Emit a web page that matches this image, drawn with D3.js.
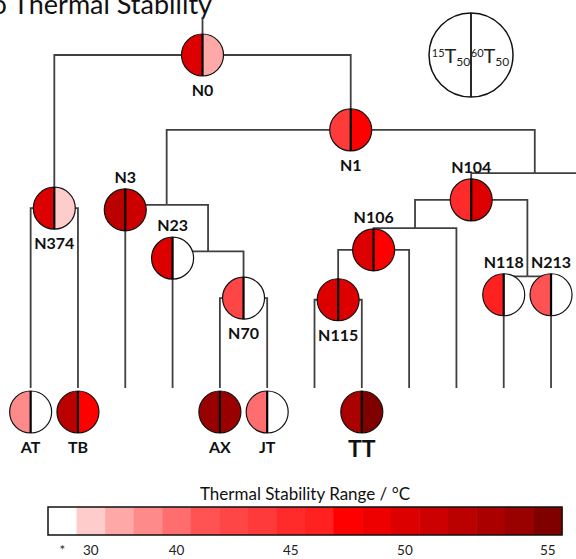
<!DOCTYPE html>
<html>
<head>
<meta charset="utf-8">
<script src="https://cdn.jsdelivr.net/npm/d3@7"></script>
<style>
  body { margin: 0; background: #fff; }
  svg { display: block; font-family: Lato, "Open Sans", sans-serif; }
</style>
</head>
<body>
<svg id="chart" width="576" height="559"></svg>
<script>
// tree topology: id, parent, distance from N0 (0) to the tip line (1)
const nodeIds   = ["N0", "N374", "AT", "TB", "N1", "J1", "N3", "L3", "J2", "N23", "L23", "N70", "AX", "JT",
                   "J3", "N104", "J4", "N106", "N115", "L115", "TT", "L106", "L104", "J5", "N118", "L118", "N213", "L213", "OUT"];
const parentIds = ["", "N0", "N374", "N374", "N0", "N1", "J1", "N3", "J1", "J2", "N23", "J2", "N70", "N70",
                   "N1", "J3", "N104", "J4", "N106", "N115", "N115", "N106", "J4", "N104", "J5", "N118", "J5", "N213", "J3"];
const nodeDist  = [0, 0.46, 1, 1, 0.225, 0.45, 0.465, 1, 0.59, 0.61, 1, 0.73, 1, 1,
                   0.355, 0.435, 0.52, 0.585, 0.735, 1, 1, 1, 1, 0.665, 0.72, 1, 0.72, 1, 1];

// measured nodes, 15T50 and 60T50 in degC (null = * / not reached)
const circleNodes = ["N0", "N1", "N374", "N3", "N23", "N70", "N104", "N106", "N115", "N118", "N213", "AT", "TB", "AX", "JT", "TT"];
const t15 = [50, 44, 50, 52, 50, 42.5, 45, 50, 50, 46, 41, 37, 52, 54, 40, 53];
const t60 = [33, 47.5, 30, 51, null, null, 50, 47.5, 50, null, null, null, 47.5, 54, null, 55];

// colour bar
const binTemps  = [null, 30, 33, 37, 40, 41, 42.5, 44, 45, 46, 47.5, 49, 50, 51, 52, 53, 54, 55];
const binColors = ["#ffffff", "#ffcccc", "#ffa8a8", "#ff8a8a", "#ff6e6e", "#ff5252", "#ff4646", "#ff3a3a", "#ff2a2a",
                   "#ff2020", "#ff0000", "#ee0000", "#dd0000", "#cc0000", "#bb0000", "#aa0000", "#990000", "#800000"];
const tickLabels = ["*", "30", "40", "45", "50", "55"];

const svg = d3.select("#chart");
const lineColor = "#404040";
const R = 21;
const labelAbove = new Set(["N3", "N23", "N104", "N106", "N118", "N213"]);

// temperature -> bin colour
const temps = binTemps.slice(1);
const tempColor = d3.scaleThreshold()
  .domain(d3.pairs(temps).map(p => (p[0] + p[1]) / 2))
  .range(binColors.slice(1));
const fillOf = t => t == null ? binColors[0] : tempColor(t);

// title (cut at the top-left edge as in the source)
svg.append("text")
  .attr("x", 212).attr("y", 14)
  .attr("text-anchor", "end")
  .attr("font-size", 27)
  .attr("fill", "#111")
  .text("to Thermal Stability");

// layout
const rows = nodeIds.map((id, i) => ({ id, parent: parentIds[i] || null, dist: nodeDist[i] }));
const root = d3.stratify().id(d => d.id).parentId(d => d.parent)(rows);
d3.cluster().size([615, 1]).separation(() => 1)(root);

const y = d3.scaleLinear().domain([0, 1]).range([55, 388]);
root.each(d => { d.px = 7 + d.x; d.py = y(d.data.dist); });

const g = svg.append("g");

// branches
g.append("path")
  .attr("d", `M${root.px},${root.py}V17`)
  .attr("fill", "none").attr("stroke", lineColor).attr("stroke-width", 1.8);

g.selectAll("path.link")
  .data(root.links())
  .join("path")
  .attr("class", "link")
  .attr("d", l => `M${l.source.px},${l.source.py}H${l.target.px}V${l.target.py}`)
  .attr("fill", "none")
  .attr("stroke", lineColor)
  .attr("stroke-width", 1.8);

// split circles
const arc = d3.arc().innerRadius(0).outerRadius(R);
const circles = circleNodes.map((id, i) => {
  const n = root.find(d => d.id === id);
  const leaf = !n.children;
  return { id, leaf, cx: n.px, cy: leaf ? n.py + 24 : n.py, t15: t15[i], t60: t60[i] };
});

const cg = g.selectAll("g.node")
  .data(circles)
  .join("g")
  .attr("class", "node")
  .attr("transform", d => `translate(${d.cx},${d.cy})`);

cg.append("path")
  .attr("d", arc({ startAngle: Math.PI, endAngle: 2 * Math.PI }))
  .attr("fill", d => fillOf(d.t15));
cg.append("path")
  .attr("d", arc({ startAngle: 0, endAngle: Math.PI }))
  .attr("fill", d => fillOf(d.t60));
cg.append("circle")
  .attr("r", R)
  .attr("fill", "none")
  .attr("stroke", "#111")
  .attr("stroke-width", 1.2);
cg.append("line")
  .attr("y1", -R).attr("y2", R)
  .attr("stroke", "#000")
  .attr("stroke-width", 2.2);

cg.append("text")
  .attr("text-anchor", "middle")
  .attr("y", d => d.id === "TT" ? 45 : labelAbove.has(d.id) ? -27 : 41)
  .attr("font-size", d => d.id === "TT" ? 23 : 16)
  .attr("font-weight", "bold")
  .attr("fill", "#111")
  .text(d => d.id);

// key circle
const key = svg.append("g").attr("transform", "translate(471,55)");
key.append("circle").attr("r", 42).attr("fill", "#fff").attr("stroke", "#111").attr("stroke-width", 1.5);
key.append("line").attr("y1", -42).attr("y2", 42).attr("stroke", "#111").attr("stroke-width", 1.8);
[["15", -20], ["60", 19]].forEach(([sup, dx]) => {
  const t = key.append("text")
    .attr("x", dx).attr("y", 8)
    .attr("text-anchor", "middle")
    .attr("fill", "#222");
  t.append("tspan").attr("font-size", 11).attr("dy", -6).text(sup);
  t.append("tspan").attr("font-size", 20).attr("dy", 6).text("T");
  t.append("tspan").attr("font-size", 12).attr("dy", 3).text("50");
});

// colour bar
const band = d3.scaleBand().domain(d3.range(binColors.length)).range([48, 562]);
const barTop = 507, barH = 28;
svg.append("text")
  .attr("x", 305).attr("y", 500)
  .attr("text-anchor", "middle")
  .attr("font-size", 17)
  .attr("fill", "#111")
  .text("Thermal Stability Range / °C");

svg.selectAll("rect.bin")
  .data(binColors)
  .join("rect")
  .attr("class", "bin")
  .attr("x", (d, i) => band(i))
  .attr("y", barTop)
  .attr("width", band.bandwidth() + 0.5)
  .attr("height", barH)
  .attr("fill", d => d);

svg.append("rect")
  .attr("x", 48).attr("y", barTop)
  .attr("width", 514).attr("height", barH)
  .attr("fill", "none")
  .attr("stroke", "#111")
  .attr("stroke-width", 1.5);

svg.selectAll("text.tick")
  .data(tickLabels)
  .join("text")
  .attr("class", "tick")
  .attr("x", d => band(d === "*" ? 0 : binTemps.indexOf(+d)) + band.bandwidth() / 2)
  .attr("y", 555)
  .attr("text-anchor", "middle")
  .attr("font-size", 13.5)
  .attr("fill", "#222")
  .text(d => d);
</script>
</body>
</html>
